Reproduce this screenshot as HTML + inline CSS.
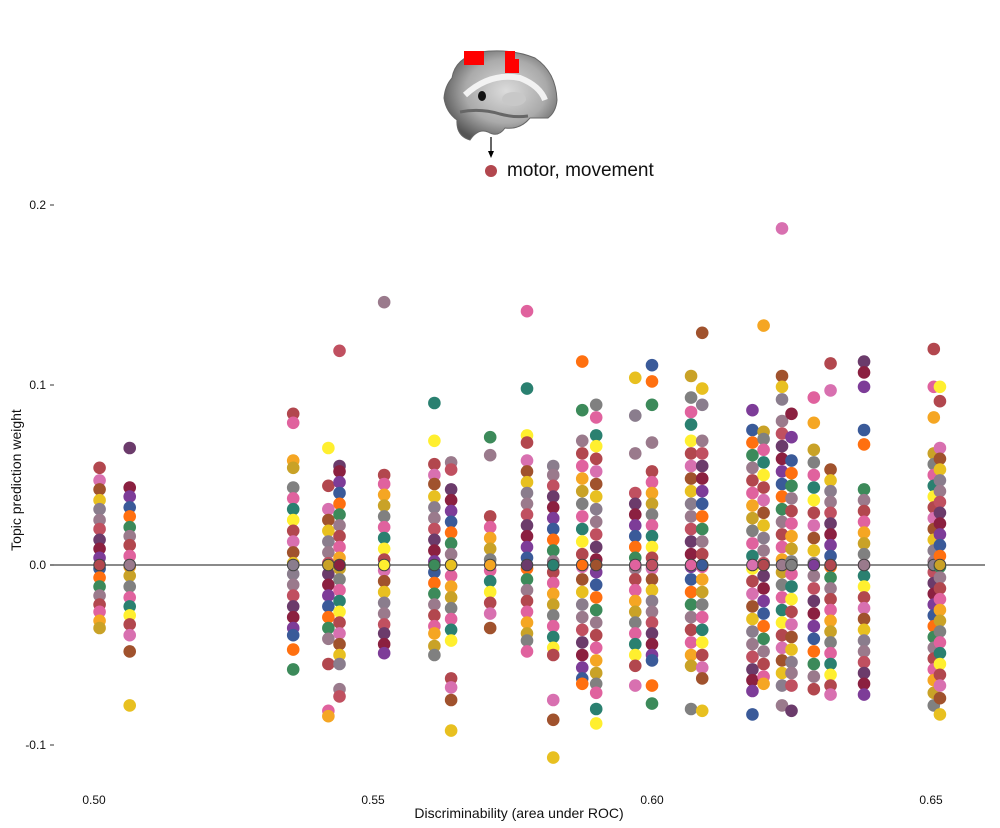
<!DOCTYPE html>
<html><head><meta charset="utf-8"><style>
body{margin:0;background:#fff;}
svg{display:block;font-family:"Liberation Sans",Arial,sans-serif;}
</style></head><body>
<svg id="chart" width="1000" height="828" viewBox="0 0 1000 828">
  <g>
    <defs>
      <radialGradient id="bg1" cx="0.55" cy="0.45" r="0.6">
        <stop offset="0" stop-color="#dcdcdc"/><stop offset="0.6" stop-color="#aaa"/><stop offset="1" stop-color="#555"/>
      </radialGradient>
    </defs>
    <path d="M452,78 Q455,58 480,52 Q510,48 535,58 Q556,72 557,100 Q556,112 548,118 L530,118 Q520,130 505,128 Q498,138 488,132 Q478,128 470,140 Q456,136 457,120 Q446,112 444,98 Q445,86 452,78 Z" fill="url(#bg1)" stroke="#666" stroke-width="1"/>
    <path d="M465,95 Q490,72 520,78 Q540,86 545,100" fill="none" stroke="#f2f2f2" stroke-width="6"/>
    <ellipse cx="514" cy="99" rx="12" ry="7" fill="#c8c8c8"/>
    <ellipse cx="482" cy="96" rx="4" ry="5" fill="#111"/>
    <path d="M460,112 Q480,108 500,114 Q515,118 528,116" fill="none" stroke="#666" stroke-width="3"/>
    <rect x="464" y="51" width="20" height="14" fill="#ff0000"/>
    <rect x="505" y="51" width="10" height="22" fill="#ff0000"/>
    <rect x="505" y="59" width="14" height="14" fill="#ff0000"/>
  </g>
  <line x1="491" y1="137" x2="491" y2="152" stroke="#000" stroke-width="1.2"/>
  <path d="M488,151 L494,151 L491,158 Z" fill="#000"/>
  <circle cx="491" cy="171" r="6" fill="#b2474e"/>
  <text x="507" y="176" font-size="19" fill="#111">motor, movement</text>

  <line x1="50" y1="565" x2="985" y2="565" stroke="#444" stroke-width="1.2"/>
  <g id="yaxis"></g>
  <g id="xaxis"></g>
  <g id="points"></g>
  <text x="519" y="818" font-size="14" text-anchor="middle" fill="#111">Discriminability (area under ROC)</text>
  <text transform="translate(21,480) rotate(-90)" font-size="14" text-anchor="middle" fill="#111">Topic prediction weight</text>
</svg>
<script>
const yTicks = [0.2, 0.1, 0.0, -0.1];
const yTickLabels = ["0.2", "0.1", "0.0", "-0.1"];
const xTicks = [0.50, 0.55, 0.60, 0.65];
const xTickLabels = ["0.50", "0.55", "0.60", "0.65"];
const aucs = [0.501,0.5064,0.5357,0.542,0.544,0.552,0.561,0.564,0.571,0.5776,0.5823,0.5875,0.590,0.597,0.600,0.607,0.609,0.618,0.620,0.6233,0.625,0.629,0.632,0.638,0.6505,0.6516];
const weights = [
 [0.054,0.047,0.042,0.036,0.031,0.025,0.02,0.014,0.009,0.004,-0.002,-0.007,-0.012,-0.017,-0.022,-0.026,-0.031,-0.035],
 [0.065,0.043,0.038,0.032,0.027,0.021,0.016,0.011,0.005,-0.001,-0.006,-0.012,-0.018,-0.023,-0.028,-0.033,-0.039,-0.048,-0.078],
 [0.084,0.079,0.058,0.054,0.043,0.037,0.031,0.025,0.019,0.013,0.007,0.001,-0.005,-0.011,-0.017,-0.023,-0.029,-0.035,-0.039,-0.047,-0.058],
 [0.065,0.044,0.031,0.025,0.019,0.013,0.007,0.001,-0.005,-0.011,-0.017,-0.023,-0.029,-0.035,-0.041,-0.055,-0.081,-0.084],
 [0.119,0.055,0.052,0.046,0.04,0.034,0.028,0.022,0.016,0.01,0.004,-0.002,-0.008,-0.014,-0.02,-0.026,-0.032,-0.038,-0.044,-0.05,-0.055,-0.069,-0.073],
 [0.146,0.05,0.045,0.039,0.033,0.027,0.021,0.015,0.009,0.003,-0.003,-0.009,-0.015,-0.021,-0.027,-0.033,-0.038,-0.044,-0.049],
 [0.09,0.069,0.056,0.05,0.045,0.038,0.032,0.026,0.02,0.014,0.008,0.002,-0.004,-0.01,-0.016,-0.022,-0.028,-0.034,-0.038,-0.045,-0.05],
 [0.057,0.053,0.042,0.036,0.03,0.024,0.018,0.012,0.006,0.0,-0.006,-0.012,-0.018,-0.024,-0.03,-0.036,-0.042,-0.063,-0.068,-0.075,-0.092],
 [0.071,0.061,0.027,0.021,0.015,0.009,0.003,-0.003,-0.009,-0.015,-0.021,-0.027,-0.035],
 [0.141,0.098,0.072,0.068,0.058,0.052,0.046,0.04,0.034,0.028,0.022,0.016,0.01,0.004,-0.002,-0.008,-0.014,-0.02,-0.026,-0.032,-0.038,-0.042,-0.048],
 [0.055,0.05,0.044,0.038,0.032,0.026,0.02,0.014,0.008,0.002,-0.004,-0.01,-0.016,-0.022,-0.028,-0.034,-0.04,-0.046,-0.05,-0.075,-0.086,-0.107],
 [0.113,0.086,0.069,0.062,0.055,0.048,0.041,0.034,0.027,0.02,0.013,0.006,-0.001,-0.008,-0.015,-0.022,-0.029,-0.036,-0.043,-0.05,-0.057,-0.063,-0.066],
 [0.089,0.082,0.072,0.066,0.059,0.052,0.045,0.038,0.031,0.024,0.017,0.01,0.003,-0.004,-0.011,-0.018,-0.025,-0.032,-0.039,-0.046,-0.053,-0.06,-0.066,-0.071,-0.08,-0.088],
 [0.104,0.083,0.062,0.04,0.034,0.028,0.022,0.016,0.01,0.004,-0.002,-0.008,-0.014,-0.02,-0.026,-0.032,-0.038,-0.044,-0.05,-0.056,-0.067],
 [0.111,0.102,0.089,0.068,0.052,0.046,0.04,0.034,0.028,0.022,0.016,0.01,0.004,-0.002,-0.008,-0.014,-0.02,-0.026,-0.032,-0.038,-0.044,-0.05,-0.053,-0.067,-0.077],
 [0.105,0.093,0.085,0.078,0.069,0.062,0.055,0.048,0.041,0.034,0.027,0.02,0.013,0.006,-0.001,-0.008,-0.015,-0.022,-0.029,-0.036,-0.043,-0.05,-0.056,-0.08],
 [0.129,0.098,0.089,0.069,0.062,0.055,0.048,0.041,0.034,0.027,0.02,0.013,0.006,-0.001,-0.008,-0.015,-0.022,-0.029,-0.036,-0.043,-0.05,-0.057,-0.063,-0.081],
 [0.086,0.075,0.068,0.061,0.054,0.047,0.04,0.033,0.026,0.019,0.012,0.005,-0.002,-0.009,-0.016,-0.023,-0.03,-0.037,-0.044,-0.051,-0.058,-0.064,-0.07,-0.083],
 [0.133,0.074,0.07,0.064,0.057,0.05,0.043,0.036,0.029,0.022,0.015,0.008,0.001,-0.006,-0.013,-0.02,-0.027,-0.034,-0.041,-0.048,-0.055,-0.062,-0.066],
 [0.187,0.105,0.099,0.092,0.08,0.073,0.066,0.059,0.052,0.045,0.038,0.031,0.024,0.017,0.01,0.003,-0.004,-0.011,-0.018,-0.025,-0.032,-0.039,-0.046,-0.053,-0.06,-0.067,-0.078],
 [0.084,0.071,0.058,0.051,0.044,0.037,0.03,0.023,0.016,0.009,0.002,-0.005,-0.012,-0.019,-0.026,-0.033,-0.04,-0.047,-0.054,-0.06,-0.067,-0.081],
 [0.093,0.079,0.064,0.057,0.05,0.043,0.036,0.029,0.022,0.015,0.008,0.001,-0.006,-0.013,-0.02,-0.027,-0.034,-0.041,-0.048,-0.055,-0.062,-0.069],
 [0.112,0.097,0.053,0.047,0.041,0.035,0.029,0.023,0.017,0.011,0.005,-0.001,-0.007,-0.013,-0.019,-0.025,-0.031,-0.037,-0.043,-0.049,-0.055,-0.061,-0.067,-0.072],
 [0.113,0.107,0.099,0.075,0.067,0.042,0.036,0.03,0.024,0.018,0.012,0.006,0.0,-0.006,-0.012,-0.018,-0.024,-0.03,-0.036,-0.042,-0.048,-0.054,-0.06,-0.066,-0.072],
 [0.12,0.099,0.082,0.062,0.056,0.05,0.044,0.038,0.032,0.026,0.02,0.014,0.008,0.002,-0.004,-0.01,-0.016,-0.022,-0.028,-0.034,-0.04,-0.046,-0.052,-0.058,-0.064,-0.071,-0.078],
 [0.099,0.091,0.065,0.059,0.053,0.047,0.041,0.035,0.029,0.023,0.017,0.011,0.005,-0.001,-0.007,-0.013,-0.019,-0.025,-0.031,-0.037,-0.043,-0.049,-0.055,-0.061,-0.067,-0.074,-0.083]
];
const topicColors = ["#b2474e","#e0629e","#f5a623","#9a7a8c","#3a5a99","#6b3b6b","#8a7d8d","#d870b0","#2a8070","#c9a227","#b2474e","#ff7010","#8b2040","#9a7a8c","#a0522d","#ffef2f","#808080","#e0629e","#3c8a5a","#7d3c98","#c05060","#e8c020"];

const NS = "http://www.w3.org/2000/svg";
function xScale(v){ return 94 + (v - 0.50) * 5580; }
function yScale(v){ return 565 - v * 1800; }

const ya = document.getElementById('yaxis');
yTicks.forEach((t, i) => {
  const y = yScale(t);
  const tx = document.createElementNS(NS, 'text');
  tx.setAttribute('x', 46); tx.setAttribute('y', y + 4);
  tx.setAttribute('text-anchor', 'end'); tx.setAttribute('font-size', '12'); tx.setAttribute('fill', '#111');
  tx.textContent = yTickLabels[i];
  
  
  ya.appendChild(tx);
  const ln = document.createElementNS(NS, 'line');
  ln.setAttribute('x1', 50); ln.setAttribute('x2', 54); ln.setAttribute('y1', y); ln.setAttribute('y2', y);
  ln.setAttribute('stroke', '#333');
  
  
  ya.appendChild(ln);
});
const xa = document.getElementById('xaxis');
xTicks.forEach((t, i) => {
  const tx = document.createElementNS(NS, 'text');
  tx.setAttribute('x', xScale(t)); tx.setAttribute('y', 804);
  tx.setAttribute('text-anchor', 'middle'); tx.setAttribute('font-size', '12'); tx.setAttribute('fill', '#111');
  tx.textContent = xTickLabels[i];
  
  
  xa.appendChild(tx);
});

const pg = document.getElementById('points');
aucs.forEach((a, c) => {
  const col = weights[c];
  col.forEach((w, i) => {
    const p = document.createElementNS(NS, 'circle');
    p.setAttribute('cx', xScale(a)); p.setAttribute('cy', yScale(w)); p.setAttribute('r', 6.3);
    p.setAttribute('fill', topicColors[(i * 7 + c * 5) % topicColors.length]);
    
    
    pg.appendChild(p);
  });
  const z = document.createElementNS(NS, 'circle');
  z.setAttribute('cx', xScale(a)); z.setAttribute('cy', yScale(0)); z.setAttribute('r', 5.8);
  z.setAttribute('fill', topicColors[(c * 3) % topicColors.length]);
  z.setAttribute('stroke', '#444'); z.setAttribute('stroke-width', '1');
  
  
  pg.appendChild(z);
});
</script>
</body></html>
